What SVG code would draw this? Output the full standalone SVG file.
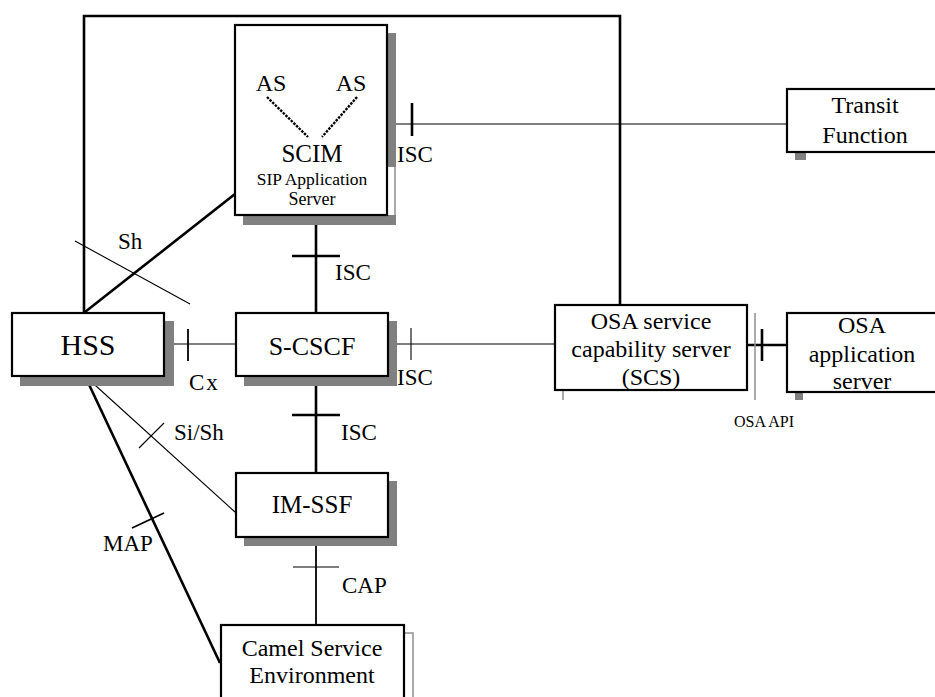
<svg xmlns="http://www.w3.org/2000/svg" width="935" height="697" viewBox="0 0 935 697">
<style>
.box{fill:#fff;stroke:#000;stroke-width:2.2}
.sh{fill:#808080;stroke:none}
.gl{stroke:#909090;stroke-width:1.5;fill:none}
text{font-family:'Liberation Serif','Times New Roman',Times,serif;fill:#000}
.t24{font-size:24px}
.lbl{font-size:23px}
.c{text-anchor:middle}
.thick{stroke:#000;stroke-width:2.6;fill:none}
.thin{stroke:#000;stroke-width:1.1;fill:none}
.mid{stroke:#000;stroke-width:1.8;fill:none}
.dash{stroke:#000;stroke-width:2.4;stroke-dasharray:2.5 1.2;fill:none}
</style>
<rect width="935" height="697" fill="#fff"/>
<g font-family="Liberation Serif, serif">
<g id="connectors">
<polyline class="thick" points="84,313 84,16 620,16 620,305"/>
<line class="thick" x1="316" y1="215" x2="316" y2="313"/>
<line class="thick" x1="292" y1="256" x2="340" y2="256"/>
<line class="thin" x1="164" y1="344" x2="236" y2="344"/>
<line class="mid" x1="188" y1="329" x2="188" y2="361"/>
<line class="thin" x1="388" y1="344" x2="555" y2="344"/>
<line class="thin" x1="411" y1="328" x2="411" y2="360"/>
<line class="thin" x1="387" y1="124" x2="787" y2="124"/>
<line class="thick" x1="412" y1="103" x2="412" y2="136"/>
<line class="thick" x1="747" y1="345" x2="787" y2="345"/>
<line class="thick" x1="762" y1="329" x2="762" y2="361"/>
<line class="thick" x1="316" y1="376" x2="316" y2="473"/>
<line class="thick" x1="292" y1="415" x2="340" y2="415"/>
<line class="mid" x1="316" y1="537" x2="316" y2="625"/>
<line class="thin" x1="293" y1="567" x2="339" y2="567"/>
<line class="thick" x1="85" y1="312" x2="235" y2="194"/>
<line class="thin" x1="75" y1="241" x2="190" y2="304"/>
<line class="thin" x1="85" y1="376" x2="235" y2="512"/>
<line class="thin" x1="139" y1="448" x2="164" y2="423"/>
<line class="thick" x1="85" y1="376" x2="220" y2="663"/>
<line class="mid" x1="132" y1="528" x2="164" y2="513"/>
</g>
<g id="labels">
<text class="lbl" x="335" y="280">ISC</text>
<text class="lbl" x="189" y="390" letter-spacing="2">Cx</text>
<text class="lbl" x="397" y="385">ISC</text>
<text class="lbl" x="397" y="162">ISC</text>
<text class="lbl" x="118" y="249">Sh</text>
<text class="lbl" x="174" y="440">Si/Sh</text>
<text class="lbl" x="341" y="440">ISC</text>
<text class="lbl" x="103" y="551">MAP</text>
<text class="lbl" x="342" y="593">CAP</text>
<text x="764" y="427" font-size="16" class="c">OSA API</text>
</g>
<g id="scim">
<rect class="sh" x="387" y="33" width="9" height="134"/>
<line class="gl" x1="395" y1="167" x2="395" y2="215"/>
<rect class="sh" x="243" y="215" width="153" height="10"/>
<rect class="box" x="235" y="25" width="152" height="190"/>
<text class="t24 c" x="271" y="91">AS</text>
<text class="t24 c" x="351" y="91">AS</text>
<line class="dash" x1="267" y1="97" x2="308" y2="137"/>
<line class="dash" x1="357" y1="97" x2="322" y2="137"/>
<text class="c" x="312" y="162" font-size="25">SCIM</text>
<text class="c" x="312" y="185" font-size="17.5">SIP Application</text>
<text class="c" x="312" y="205" font-size="18">Server</text>
</g>
<g id="transit">
<rect class="sh" x="795" y="152" width="11" height="8"/>
<rect class="box" x="787" y="89" width="160" height="63"/>
<text class="t24 c" x="865" y="113">Transit</text>
<text class="t24 c" x="865" y="143">Function</text>
</g>
<g id="hss">
<rect class="sh" x="20" y="321" width="154" height="65"/>
<rect class="box" x="12" y="313" width="152" height="63"/>
<text class="c" x="88" y="355" font-size="30">HSS</text>
</g>
<g id="scscf">
<rect class="sh" x="244" y="321" width="153" height="65"/>
<rect class="box" x="236" y="313" width="152" height="63"/>
<text class="c" x="312" y="355" font-size="26">S-CSCF</text>
</g>
<g id="osa-scs">
<line class="gl" x1="563" y1="390" x2="563" y2="400"/>
<line class="gl" x1="755" y1="313" x2="755" y2="400"/>
<rect class="box" x="555" y="305" width="192" height="85"/>
<text class="t24 c" x="651" y="329">OSA service</text>
<text class="t24 c" x="651" y="357">capability server</text>
<text class="t24 c" x="651" y="385">(SCS)</text>
</g>
<g id="osa-as">
<rect class="sh" x="795" y="392" width="8" height="8"/>
<rect class="box" x="787" y="313" width="160" height="79"/>
<text class="t24 c" x="862" y="333">OSA</text>
<text class="t24 c" x="862" y="362">application</text>
<text class="t24 c" x="862" y="389">server</text>
</g>
<g id="imssf">
<rect class="sh" x="244" y="481" width="153" height="65"/>
<rect class="box" x="236" y="473" width="152" height="64"/>
<text class="c" x="312" y="513" font-size="25">IM-SSF</text>
</g>
<g id="camel">
<polyline class="gl" points="404,633 413,633 413,697"/>
<rect class="box" x="221" y="625" width="183" height="80"/>
<text class="t24 c" x="312" y="656">Camel Service</text>
<text class="t24 c" x="312" y="683">Environment</text>
</g>
</g>
</svg>
